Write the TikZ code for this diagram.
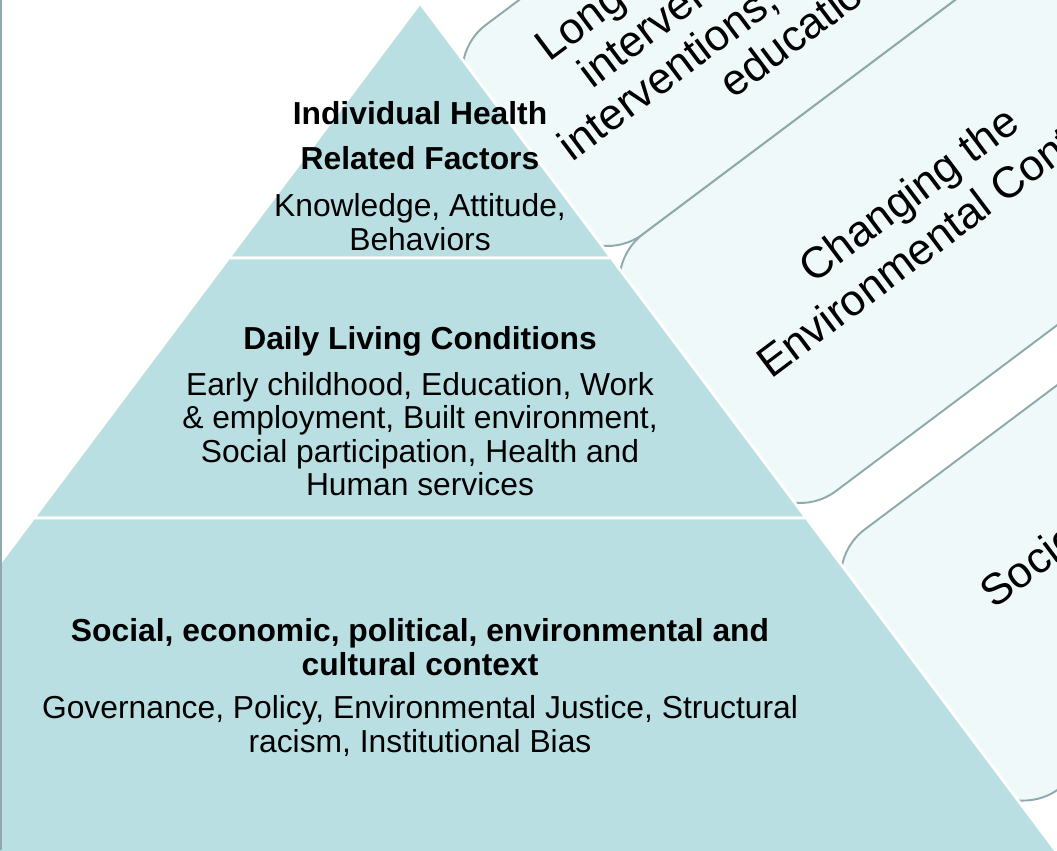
\documentclass[tikz,border=0pt]{standalone}
\usepackage{fontspec}
\setmainfont{Liberation Sans}
\usetikzlibrary{positioning}

\definecolor{tierfill}{RGB}{185,223,227}
\definecolor{bandfill}{RGB}{240,249,249}
\definecolor{bandline}{RGB}{143,170,173}

\begin{document}
\begin{tikzpicture}[x=0.02cm,y=-0.02cm]
	\tikzstyle{tier}=[fill=tierfill,draw=white,line width=1.6pt,line join=round]
	\tikzstyle{band}=[fill=bandfill,draw=bandline,line width=1.1pt,rounded corners=1.2cm]
	\tikzstyle{bandtext}=[align=center,font=\fontsize{24.9}{29}\selectfont]
	\tikzstyle{head}=[align=center,font=\fontsize{18.1}{19}\selectfont\bfseries]
	\tikzstyle{body}=[align=center,font=\fontsize{18.1}{19}\selectfont]

	\useasboundingbox (0,0) rectangle (1057,850);
	\clip (0,0) rectangle (1057,850);

	%bands behind the pyramid, along its right side
	\begin{scope}[shift={(420,3)},rotate=36.87,transform shape]
		\draw[band] (-20,57) rectangle (1400,318.75);
		\draw[band] (-20,318.75) rectangle (1400,640);
		\draw[band] (-20,688) rectangle (1400,1012);
		\node[bandtext,font=\fontsize{24.9}{26.6}\selectfont] (protectText) at (288,180) {Long-lasting protective\\interventions, clinical\\interventions, counseling \&\\education};
		\node[bandtext] (contextText) at (276,471) {Changing the\\Environmental Context};
		\node[bandtext] (socioText) at (244,840) {Socioeconomic\\Factors};
	\end{scope}

	%pyramid
	\coordinate (apex) at (420,3);
	\coordinate (t1L) at (228.75,258);
	\coordinate (t1R) at (611.25,258);
	\coordinate (t2L) at (33.75,518);
	\coordinate (t2R) at (806.25,518);
	\coordinate (t3L) at (-230.25,870);
	\coordinate (t3R) at (1070.25,870);
	\draw[tier] (apex) -- (t1R) -- (t1L) -- cycle;
	\draw[tier] (t1L) -- (t1R) -- (t2R) -- (t2L) -- cycle;
	\draw[tier] (t2L) -- (t2R) -- (t3R) -- (t3L) -- cycle;

	%top tier
	\node[head,font=\fontsize{18.1}{25.5}\selectfont\bfseries] (indHead) at (420,136) {Individual Health\\Related Factors};
	\node[body] (indBody) at (420,222) {Knowledge, Attitude,\\Behaviors};

	%middle tier
	\node[head] (dailyHead) at (420,341) {Daily Living Conditions};
	\node[body] (dailyBody) at (420,434) {Early childhood, Education, Work\\\& employment, Built environment,\\Social participation, Health and\\Human services};

	%bottom tier
	\node[head] (socialHead) at (420,647) {Social, economic, political, environmental and\\cultural context};
	\node[body] (socialBody) at (420,726) {Governance, Policy, Environmental Justice, Structural\\racism, Institutional Bias};

	\draw[bandline,line width=1.1pt] (1,0) -- (1,850);
\end{tikzpicture}
\end{document}
